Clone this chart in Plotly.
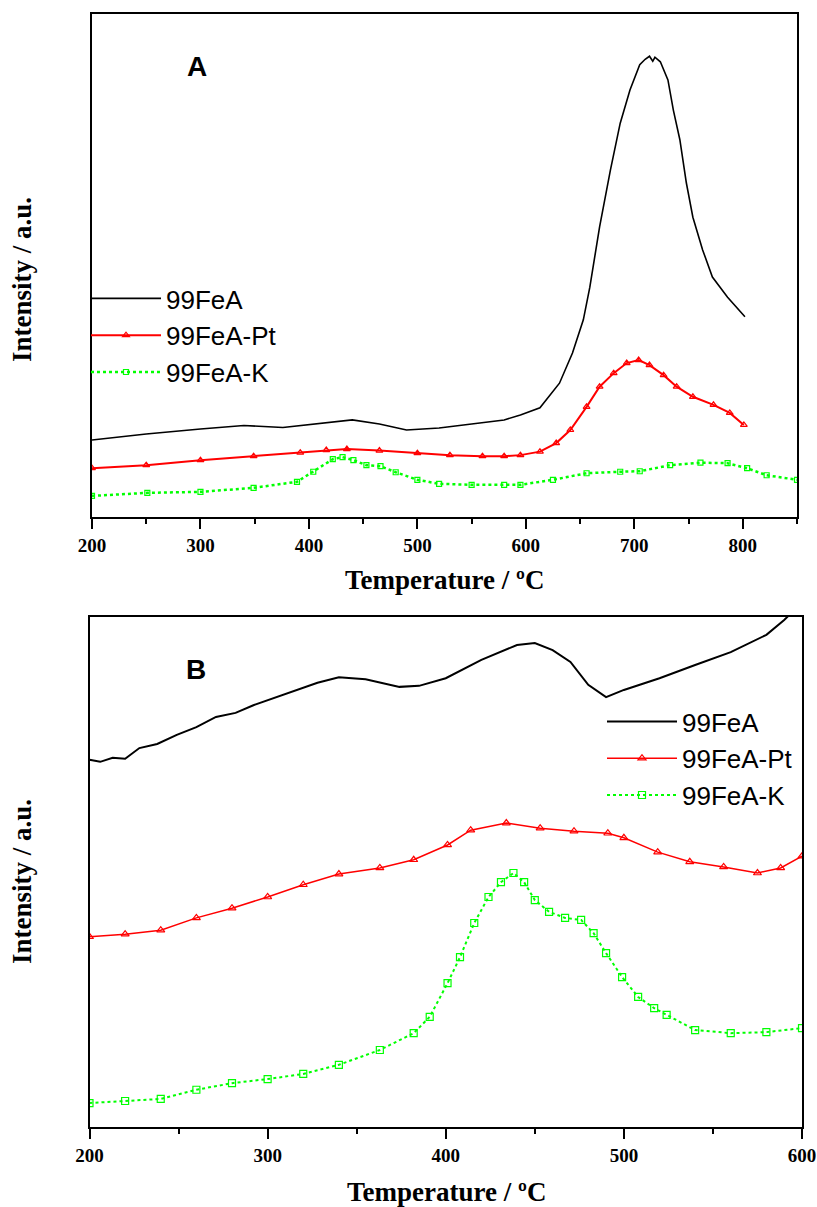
import plotly.graph_objects as go

# ---------------- Panel A data (temperature in ºC, intensity in a.u.) ----------------
a_black_t = [200, 250, 300, 340, 376, 404, 440, 465, 490, 520, 560, 580, 595, 613, 631, 643, 653, 659,
             668, 678, 687, 696, 705, 710, 714, 717, 719, 724, 731, 736, 742, 748, 754, 763, 772, 786, 802]
a_black_v = [15.3, 16.5, 17.5, 18.2, 17.8, 18.5, 19.3, 18.5, 17.3, 17.7, 18.7, 19.3, 20.3, 21.7, 26.6, 32.6,
             39.2, 45.7, 57.7, 69.0, 78.3, 84.9, 89.9, 91.0, 91.6, 90.6, 91.4, 90.5, 86.9, 80.9, 75.0, 66.4,
             59.6, 53.1, 47.7, 43.7, 39.8]

a_red_t = [200, 250, 300, 349, 392, 416, 435, 465, 500, 530, 560, 580, 595, 613, 628, 641, 656, 668,
           681, 693, 704, 714, 727, 739, 754, 773, 788, 801]
a_red_v = [9.7, 10.3, 11.3, 12.1, 12.8, 13.3, 13.5, 13.2, 12.7, 12.3, 12.1, 12.1, 12.3, 13.0, 14.7, 17.3,
           21.9, 25.9, 28.6, 30.6, 31.2, 30.2, 28.2, 25.9, 23.9, 22.3, 20.7, 18.3]

a_green_t = [200, 251, 300, 349, 389, 404, 422, 431, 441, 453, 466, 480, 500, 520, 550, 580, 595, 625,
             656, 687, 705, 733, 761, 786, 804, 822, 850]
a_green_v = [4.2, 4.8, 5.0, 5.8, 7.0, 9.0, 11.5, 11.9, 11.3, 10.3, 10.1, 8.9, 7.4, 6.6, 6.4, 6.4, 6.4, 7.4,
             8.7, 9.0, 9.1, 10.3, 10.8, 10.7, 9.7, 8.3, 7.4]

# ---------------- Panel B data ----------------
b_black_t = [200, 206, 213, 220, 228, 238, 249, 260, 271, 282, 292, 303, 313, 328, 340, 355, 374, 385,
             400, 420, 440, 450, 460, 470, 480, 490, 500, 520, 540, 560, 580, 590, 600]
b_black_v = [72.0, 71.6, 72.4, 72.2, 74.3, 75.1, 76.9, 78.4, 80.4, 81.2, 82.7, 84.0, 85.3, 87.1, 88.2,
             87.8, 86.3, 86.5, 88.0, 91.6, 94.5, 94.9, 93.5, 91.2, 86.7, 84.3, 85.7, 88.0, 90.6, 93.1,
             96.5, 99.4, 102.9]

b_red_t = [200, 220, 240, 260, 280, 300, 320, 340, 363, 382, 401, 414, 434, 453, 472, 491, 500, 519,
           537, 556, 575, 588, 600]
b_red_v = [37.3, 37.8, 38.6, 41.0, 42.9, 45.1, 47.5, 49.6, 50.8, 52.4, 55.3, 58.2, 59.6, 58.6, 58.0,
           57.6, 56.7, 53.9, 52.0, 51.0, 49.8, 50.8, 53.1]

b_green_t = [200, 220, 240, 260, 280, 300, 320, 340, 363, 382, 391, 401, 408, 416, 424, 431, 438, 444,
             450, 458, 467, 476, 483, 490, 499, 508, 517, 524, 540, 560, 580, 600]
b_green_v = [4.7, 5.1, 5.5, 7.3, 8.6, 9.4, 10.4, 12.2, 15.1, 18.4, 21.6, 28.2, 33.3, 40.0, 45.1, 48.0,
             49.8, 48.0, 44.5, 42.2, 41.0, 40.6, 38.0, 34.1, 29.4, 25.5, 23.3, 22.0, 19.0, 18.4, 18.6, 19.4]

series_names = ["99FeA", "99FeA-Pt", "99FeA-K"]
x_ticks_a = [200, 300, 400, 500, 600, 700, 800]
x_ticks_b = [200, 300, 400, 500, 600]

W, H = 817, 1207
BLACK, RED, GREEN = "#000000", "#ff0000", "#00ff00"
SERIF = "Liberation Serif, Times New Roman, serif"
SANS = "Liberation Sans, Arial, sans-serif"


def px_x(p):
    return p / W


def px_y(p):
    return 1 - p / H


fig = go.Figure()

# Panel A traces
fig.add_trace(go.Scatter(x=a_black_t, y=a_black_v, name=series_names[0], mode="lines",
                         line=dict(color=BLACK, width=1.6), xaxis="x", yaxis="y", legend="legend"))
fig.add_trace(go.Scatter(x=a_red_t, y=a_red_v, name=series_names[1], mode="lines+markers",
                         line=dict(color=RED, width=2),
                         marker=dict(symbol="triangle-up-open", size=6, color=RED, line=dict(width=1.2)),
                         xaxis="x", yaxis="y", legend="legend"))
fig.add_trace(go.Scatter(x=a_green_t, y=a_green_v, name=series_names[2], mode="lines+markers",
                         line=dict(color=GREEN, width=2.5, dash="dot"),
                         marker=dict(symbol="square-open", size=5, color=GREEN, line=dict(width=1.2)),
                         xaxis="x", yaxis="y", legend="legend"))

# Panel B traces
fig.add_trace(go.Scatter(x=b_black_t, y=b_black_v, name=series_names[0], mode="lines",
                         line=dict(color=BLACK, width=2), xaxis="x2", yaxis="y2", legend="legend2"))
fig.add_trace(go.Scatter(x=b_red_t, y=b_red_v, name=series_names[1], mode="lines+markers",
                         line=dict(color=RED, width=1.5),
                         marker=dict(symbol="triangle-up-open", size=7, color=RED, line=dict(width=1.2)),
                         xaxis="x2", yaxis="y2", legend="legend2"))
fig.add_trace(go.Scatter(x=b_green_t, y=b_green_v, name=series_names[2], mode="lines+markers",
                         line=dict(color=GREEN, width=2, dash="dot"),
                         marker=dict(symbol="square-open", size=7, color=GREEN, line=dict(width=1.2)),
                         xaxis="x2", yaxis="y2", legend="legend2"))

tickfont = dict(family=SERIF, size=19, color="black", weight="bold")


def xaxis_common(rng, ticks, domain, anchor):
    return dict(domain=domain, range=rng, anchor=anchor, tickvals=ticks, ticks="outside",
                ticklen=10, tickwidth=2, tickcolor="black", showline=True, linecolor="black",
                linewidth=2, mirror=True, showgrid=False, zeroline=False, tickfont=tickfont,
                automargin=False,
                minor=dict(dtick=50, ticks="outside", ticklen=5, tickwidth=2, tickcolor="black",
                           showgrid=False))


def yaxis_common(domain, anchor):
    return dict(domain=domain, range=[0, 100], anchor=anchor, showticklabels=False, ticks="",
                showline=True, linecolor="black", linewidth=2, mirror=True, showgrid=False,
                zeroline=False, automargin=False)


legend_common = dict(font=dict(family=SANS, size=26, color="black"), bgcolor="rgba(0,0,0,0)",
                     borderwidth=0, itemwidth=70, xanchor="left", yanchor="top",
                     tracegroupgap=0, traceorder="normal")

fig.update_layout(
    width=W, height=H, paper_bgcolor="white", plot_bgcolor="white",
    margin=dict(l=0, r=0, t=0, b=0, autoexpand=False), showlegend=True,
    xaxis=xaxis_common([200, 850], x_ticks_a, [px_x(92), px_x(797)], "y"),
    yaxis=yaxis_common([px_y(517), px_y(14)], "x"),
    xaxis2=xaxis_common([200, 600], x_ticks_b, [px_x(89.5), px_x(802)], "y2"),
    yaxis2=yaxis_common([px_y(1127), px_y(617)], "x2"),
    legend=dict(x=px_x(86), y=px_y(275), **legend_common),
    legend2=dict(x=px_x(602), y=px_y(698), **legend_common),
)

title_font = dict(family=SERIF, size=27, color="black", weight="bold")
label_font = dict(family=SANS, size=28, color="black", weight="bold")
annotations = [
    dict(text="Temperature / ºC", x=px_x(444.5), y=px_y(580), xref="paper", yref="paper",
         showarrow=False, font=title_font, xanchor="center", yanchor="middle"),
    dict(text="Temperature / ºC", x=px_x(446), y=px_y(1192), xref="paper", yref="paper",
         showarrow=False, font=title_font, xanchor="center", yanchor="middle"),
    dict(text="Intensity / a.u.", x=px_x(22), y=px_y(280), xref="paper", yref="paper",
         showarrow=False, font=title_font, textangle=-90, xanchor="center", yanchor="middle"),
    dict(text="Intensity / a.u.", x=px_x(22), y=px_y(882), xref="paper", yref="paper",
         showarrow=False, font=title_font, textangle=-90, xanchor="center", yanchor="middle"),
    dict(text="A", x=px_x(197), y=px_y(66), xref="paper", yref="paper",
         showarrow=False, font=label_font, xanchor="center", yanchor="middle"),
    dict(text="B", x=px_x(196), y=px_y(669), xref="paper", yref="paper",
         showarrow=False, font=label_font, xanchor="center", yanchor="middle"),
]
fig.update_layout(annotations=annotations)

# remove the default 8px page margin so the figure fills the window exactly
fig.write_html("out.html", config={"displayModeBar": False},
               post_script="document.body.style.margin='0';")
